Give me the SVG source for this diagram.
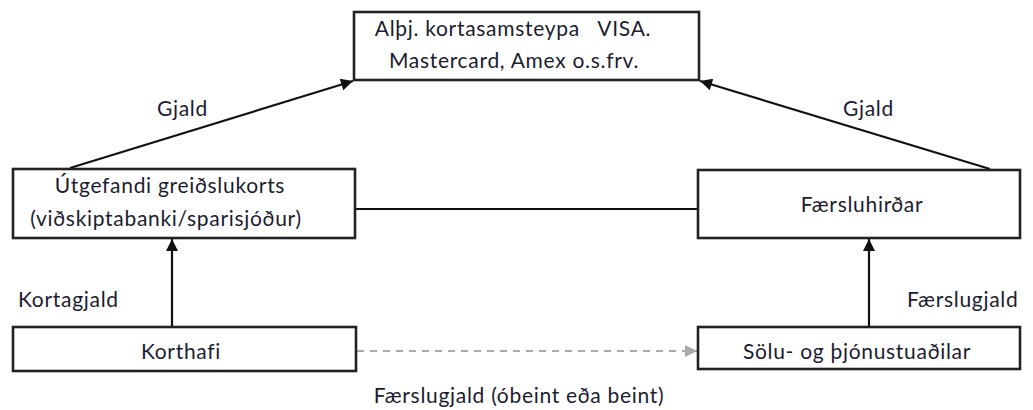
<svg xmlns="http://www.w3.org/2000/svg" width="1033" height="410" viewBox="0 0 1033 410">
<style>
.box{fill:#fff;stroke:#222;stroke-width:2.6}
.t{font-family:Lato,"Liberation Sans",sans-serif;font-size:21px;letter-spacing:0.7px;fill:#1c1c30}
.c{text-anchor:middle}
.ln{stroke:#111;stroke-width:2.2;fill:none}
.dash{stroke:#aaa;stroke-width:2;stroke-dasharray:7,6;fill:none}
</style>
<defs>
<marker id="ahb" viewBox="0 0 10 10" refX="10" refY="5" markerWidth="14" markerHeight="12" markerUnits="userSpaceOnUse" orient="auto">
<path d="M0,0 L10,5 L0,10 z" fill="#111"/>
</marker>
<marker id="ahg" viewBox="0 0 10 10" refX="10" refY="5" markerWidth="14" markerHeight="12" markerUnits="userSpaceOnUse" orient="auto">
<path d="M0,0 L10,5 L0,10 z" fill="#aaa"/>
</marker>
</defs>
<g id="connectors">
<line class="ln" x1="70" y1="168" x2="353" y2="81" marker-end="url(#ahb)"/>
<line class="ln" x1="990" y1="169" x2="700" y2="81" marker-end="url(#ahb)"/>
<line class="ln" x1="356" y1="209" x2="698" y2="209"/>
<line class="ln" x1="172" y1="327" x2="172" y2="239" marker-end="url(#ahb)"/>
<line class="ln" x1="869" y1="327" x2="869" y2="239" marker-end="url(#ahb)"/>
<line class="dash" x1="357" y1="351" x2="697" y2="351" marker-end="url(#ahg)"/>
<text class="t" x="157" y="116">Gjald</text>
<text class="t" x="843" y="116">Gjald</text>
<text class="t" x="18" y="307">Kortagjald</text>
<text class="t" x="907" y="307">Færslugjald</text>
<text class="t c" x="519" y="403">Færslugjald (óbeint eða beint)</text>
</g>
<g id="node-top">
<rect class="box" x="354" y="12" width="345" height="68"/>
<text class="t c" x="513" y="36" xml:space="preserve">Alþj. kortasamsteypa   VISA.</text>
<text class="t c" x="514" y="68">Mastercard, Amex o.s.frv.</text>
</g>
<g id="node-utgefandi">
<rect class="box" x="13" y="169" width="342" height="69"/>
<text class="t c" x="170" y="193">Útgefandi greiðslukorts</text>
<text class="t c" x="166" y="226">(viðskiptabanki/sparisjóður)</text>
</g>
<g id="node-faersluhirdar">
<rect class="box" x="698" y="170" width="322" height="68"/>
<text class="t c" x="862" y="212">Færsluhirðar</text>
</g>
<g id="node-korthafi">
<rect class="box" x="13" y="327" width="343" height="44"/>
<text class="t c" x="181" y="359">Korthafi</text>
</g>
<g id="node-solu">
<rect class="box" x="698" y="327" width="322" height="42"/>
<text class="t c" x="857" y="359">Sölu- og þjónustuaðilar</text>
</g>
</svg>
